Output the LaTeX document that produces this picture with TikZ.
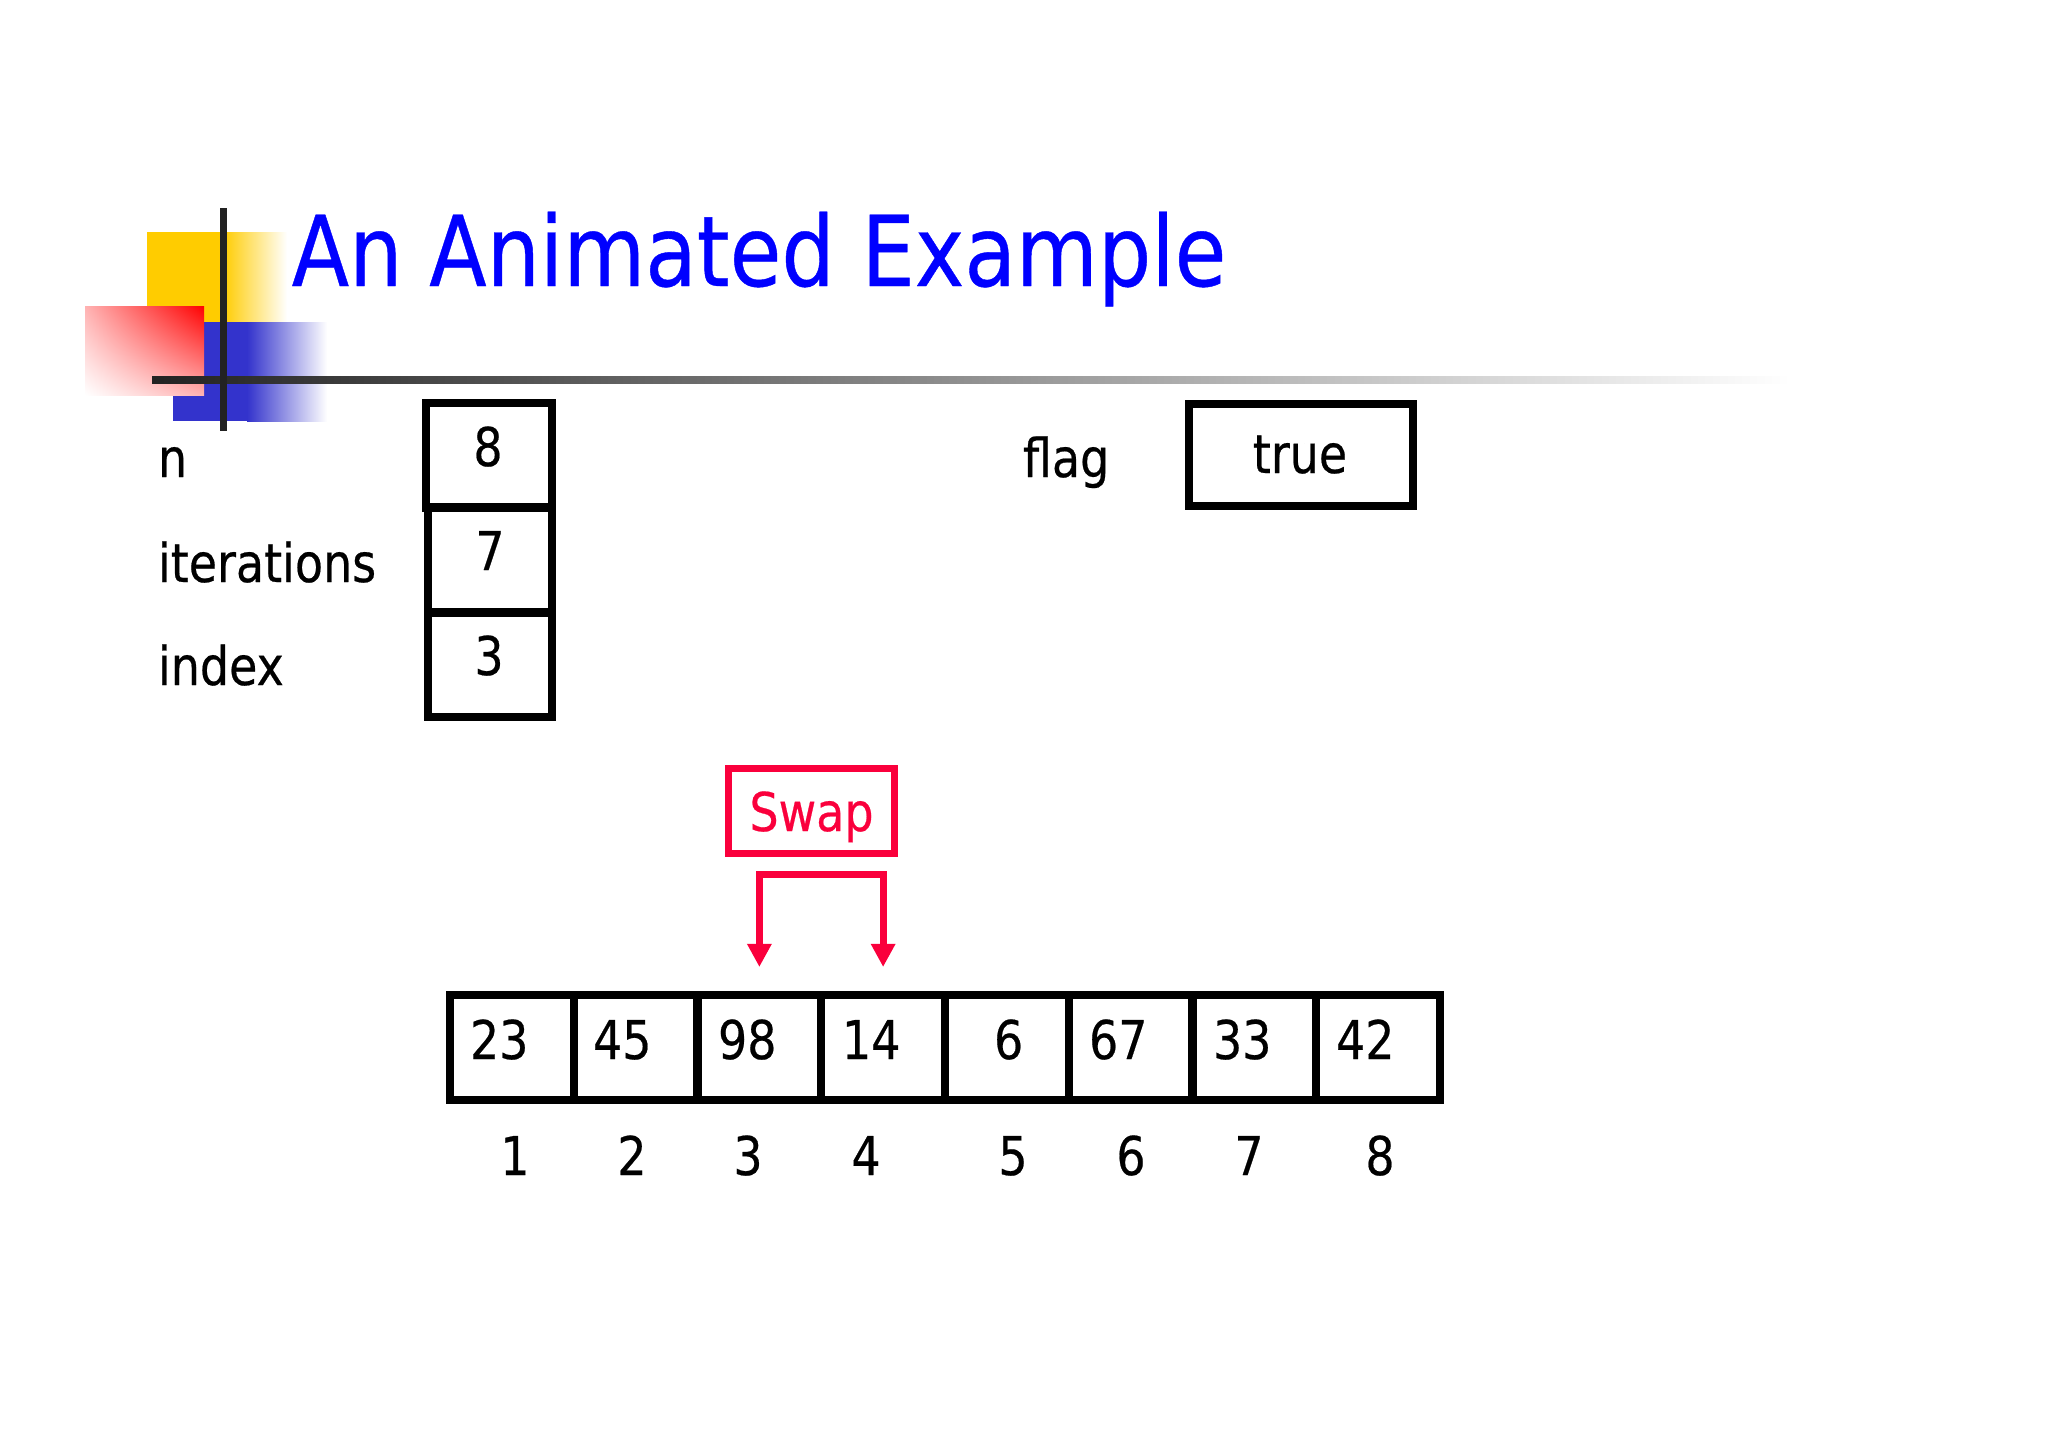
\documentclass[tikz,border=0pt]{standalone}
\usepackage{fontspec}
\setmainfont{DejaVu Sans}[FakeStretch=0.86,FakeBold=0.4]
\usetikzlibrary{arrows.meta,calc,shadings}
\definecolor{ttlblue}{RGB}{0,0,255}
\definecolor{swapred}{RGB}{250,0,60}
\definecolor{logoyellow}{RGB}{255,204,0}
\definecolor{logoblue}{RGB}{51,51,204}
\definecolor{logored}{RGB}{255,0,0}
\definecolor{linedark}{RGB}{34,34,34}
\newcommand\mybodyfont{\fontsize{15.2pt}{18pt}\selectfont}
\newcommand\mytitlefont{\fontsize{27.8pt}{33pt}\selectfont}
\begin{document}
\begin{tikzpicture}[x=0.01cm,y=-0.01cm,
  txt/.style={inner sep=0pt, outer sep=0pt, font=\mybodyfont, text=black},
  varbox/.style={draw=black, line width=0.08cm, inner sep=0pt, minimum width=1.24cm, minimum height=1.05cm},
  cellbox/.style={draw=black, line width=0.08cm, inner sep=0pt, minimum width=1.2375cm, minimum height=1.05cm},
  swapbox/.style={draw=swapred, line width=0.07cm, inner sep=0pt, minimum width=1.66cm, minimum height=0.85cm,
     text=swapred, font=\mybodyfont, text height=0.4cm, text depth=0pt},
  swapline/.style={draw=swapred, line width=0.07cm, line join=miter,
     {Triangle[width=0.23cm,length=0.23cm]}-{Triangle[width=0.23cm,length=0.23cm]}}]
\useasboundingbox (0,0) rectangle (2048,1448);
\fill[white] (0,0) rectangle (2048,1448);
% logo
\fill[logoyellow] (147,232) rectangle (224,322);
\shade[left color=logoyellow,right color=white] (223,232) rectangle (287,322);
\fill[logoblue] (173,322) rectangle (248,421);
\shade[left color=logoblue,right color=white] (247,322) rectangle (327,421);
\shade[upper right=logored, lower left=white, upper left=logored!30!white, lower right=logored!30!white] (85,306) rectangle (204,395);
\shade[left color=linedark, middle color=black!45, right color=white] (152,376.5) rectangle (1790,383.5);
\fill[linedark] (219.5,208) rectangle (226.5,431);
% title
\node[inner sep=0pt, anchor=base west, font=\mytitlefont, text=ttlblue] (title) at (291,286) {An Animated Example};
% variables
\node[txt, anchor=base west] (ln) at (158,477) {n};
\node[txt, anchor=base west] (lit) at (158,582) {iterations};
\node[txt, anchor=base west] (lidx) at (158,685) {index};
\node[varbox, minimum width=1.26cm, minimum height=1.045cm] (bn) at (489,455.25) {};
\node[varbox] (bit) at (490,560) {};
\node[varbox, minimum height=1.045cm] (bidx) at (490,664.75) {};
\node[txt, anchor=base] (vn) at (488,466) {8};
\node[txt, anchor=base] (vit) at (490,570) {7};
\node[txt, anchor=base] (vidx) at (489,675) {3};
\node[txt, anchor=base west] (lflag) at (1023,477) {flag};
\node[varbox, minimum width=2.24cm, minimum height=1.02cm] (bflag) at (1301,455) {};
\node[txt, anchor=base] (vflag) at (1300,473) {true};
% array
\foreach \i/\v/\tx/\ix in {1/23/470/515, 2/45/593/632, 3/98/718/748, 4/14/842/866, 5/6/994/1013, 6/67/1089/1131, 7/33/1213/1249, 8/42/1336/1380} {
  \node[cellbox] (c\i) at ({450+123.75*(\i-0.5)},1047.5) {};
  \node[txt, anchor=base west] (a\i) at (\tx,1059) {\v};
  \node[txt, anchor=base] (n\i) at (\ix,1175) {\i};
}
% swap
\node[swapbox] (swap) at (811.5,811) {Swap};
\coordinate (brk) at (0,874);
\coordinate (lt) at ($(c3.north)+(0,-24)$);
\coordinate (rt) at ($(c4.north)+(0,-24)$);
\draw[swapline] (lt) -- (c3.north |- brk) -- (c4.north |- brk) -- (rt);
\end{tikzpicture}
\end{document}
